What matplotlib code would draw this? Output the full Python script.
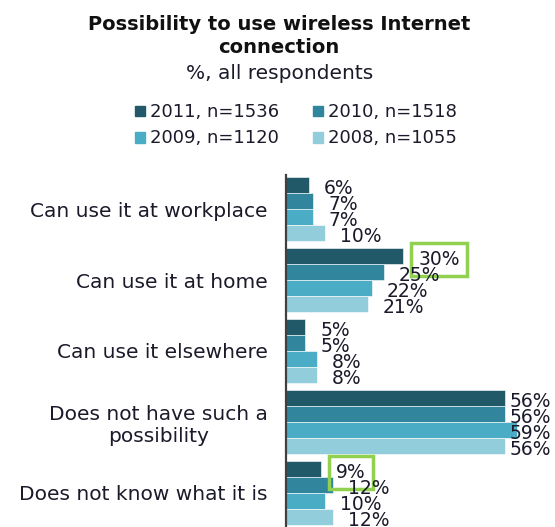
import numpy as np
from matplotlib import pyplot as plt
from matplotlib.patches import Patch

categories = ["Can use it at workplace", "Can use it at home", "Can use it elsewhere",
              "Does not have such a\npossibility", "Does not know what it is"]
series = ["2011, n=1536", "2010, n=1518", "2009, n=1120", "2008, n=1055"]
v2011 = [6, 30, 5, 56, 9]
v2010 = [7, 25, 5, 56, 12]
v2009 = [7, 22, 8, 59, 10]
v2008 = [10, 21, 8, 56, 12]
values = [v2011, v2010, v2009, v2008]
colors = ["#215968", "#31859C", "#4BACC6", "#92CDDC"]
# labels that get a green frame: (series index, category index)
highlight = [(0, 1), (0, 4)]

txt = "#1a1a2a"
fig = plt.figure(figsize=(5.55, 5.27), dpi=100)
ax = fig.add_axes([0.515, 0.0, 0.485, 0.668])

h = 0.225
y = np.arange(len(categories))
for i, vals in enumerate(values):
    pos = y - 0.45 + h * (i + 0.5)
    ax.barh(pos, vals, height=h, color=colors[i], edgecolor="white", linewidth=0.4)
    for j, v in enumerate(vals):
        lx = min(v + 3.8, 57.3)
        kw = {}
        if (i, j) in highlight:
            kw = dict(bbox=dict(boxstyle="square,pad=0.38", fc="none", ec="#92D050", lw=2.5))
        ax.text(lx, pos[j] + 0.05, "%d%%" % v, va="center", ha="left",
                fontsize=13.5, color=txt, **kw)

ax.set_xlim(0, 68.8)
ax.set_ylim(4.48, -0.48)
ax.set_yticks(y)
ax.set_yticklabels(categories, fontsize=14.5, color=txt, ha="right", multialignment="center")
ax.tick_params(axis="y", length=0, pad=13)
ax.set_xticks([])
for s in ["top", "right", "bottom"]:
    ax.spines[s].set_visible(False)
ax.spines["left"].set_color("#404040")
ax.spines["left"].set_linewidth(1.6)

fig.text(0.503, 0.932, "Possibility to use wireless Internet\nconnection", ha="center", va="center",
         fontsize=14, fontweight="bold", color="#111111", linespacing=1.3)
fig.text(0.503, 0.861, "%, all respondents", ha="center", va="center", fontsize=14.5, color=txt)

handles = [Patch(color=c) for c in colors]
order = [0, 2, 1, 3]
fig.legend([handles[k] for k in order], [series[k] for k in order], ncol=2,
           loc="center", bbox_to_anchor=(0.533, 0.762), frameon=False, fontsize=13,
           handlelength=0.55, handleheight=0.55, handletextpad=0.25, columnspacing=1.9,
           labelspacing=0.45, labelcolor=txt)

plt.savefig("out.png", dpi=100)
